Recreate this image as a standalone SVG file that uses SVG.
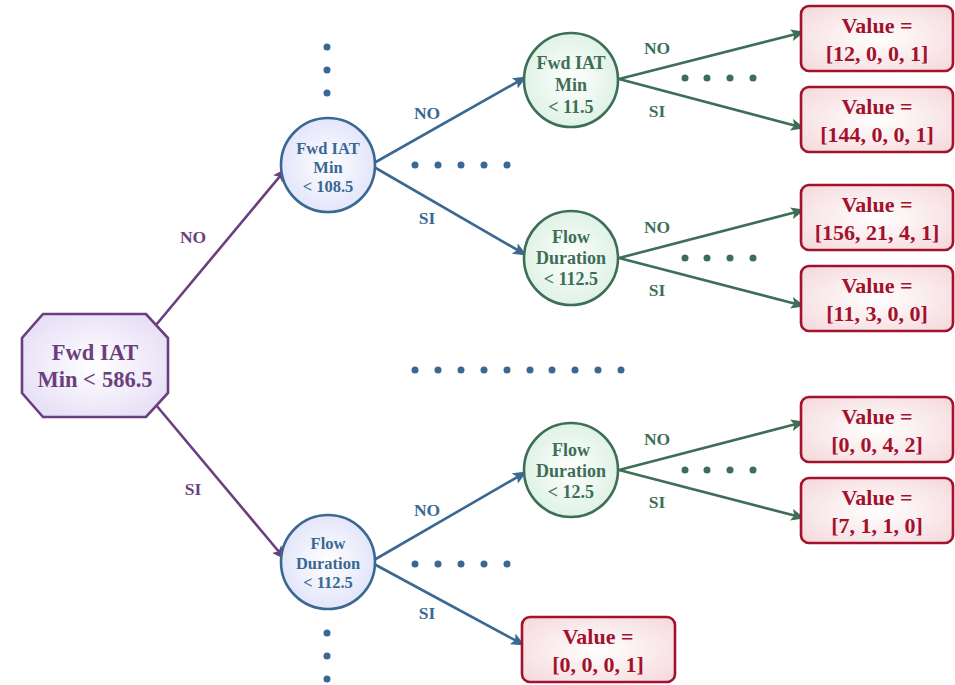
<svg xmlns="http://www.w3.org/2000/svg" width="955" height="685" viewBox="0 0 955 685">
  <defs>
    <radialGradient id="gPurple" cx="50%" cy="50%" r="60%">
      <stop offset="0" stop-color="#ffffff"/>
      <stop offset="1" stop-color="#e6def6"/>
    </radialGradient>
    <radialGradient id="gBlue" cx="50%" cy="50%" r="55%">
      <stop offset="0" stop-color="#ffffff"/>
      <stop offset="1" stop-color="#e0e3fa"/>
    </radialGradient>
    <radialGradient id="gGreen" cx="50%" cy="50%" r="55%">
      <stop offset="0" stop-color="#ffffff"/>
      <stop offset="1" stop-color="#dcf1e3"/>
    </radialGradient>
    <radialGradient id="gRed" cx="50%" cy="50%" r="65%">
      <stop offset="0" stop-color="#ffffff"/>
      <stop offset="1" stop-color="#f5dadd"/>
    </radialGradient>
    <marker id="aPurple" viewBox="0 0 14 12" refX="13" refY="6" markerWidth="14" markerHeight="12" markerUnits="userSpaceOnUse" orient="auto">
      <path d="M0,0 L14,6 L0,12 L3,6 Z" fill="#6b3f7e"/>
    </marker>
    <marker id="aBlue" viewBox="0 0 14 12" refX="13" refY="6" markerWidth="14" markerHeight="12" markerUnits="userSpaceOnUse" orient="auto">
      <path d="M0,0 L14,6 L0,12 L3,6 Z" fill="#3a6893"/>
    </marker>
    <marker id="aGreen" viewBox="0 0 14 12" refX="13" refY="6" markerWidth="14" markerHeight="12" markerUnits="userSpaceOnUse" orient="auto">
      <path d="M0,0 L14,6 L0,12 L3,6 Z" fill="#3d6e58"/>
    </marker>
  </defs>
  <style>
    text { font-family: "Liberation Serif", "Times New Roman", serif; font-weight: bold; text-anchor: middle; dominant-baseline: central; }
    .ep { stroke: #6b3f7e; stroke-width: 2.6; fill: none; marker-end: url(#aPurple); }
    .eb { stroke: #3a6893; stroke-width: 2.6; fill: none; marker-end: url(#aBlue); }
    .eg { stroke: #3d6e58; stroke-width: 2.6; fill: none; marker-end: url(#aGreen); }
    .lp { fill: #6b3f7e; font-size: 17.5px; }
    .lb { fill: #3a6893; font-size: 17.5px; }
    .lg { fill: #3d6e58; font-size: 17.5px; }
    .root { fill: url(#gPurple); stroke: #6b3f7e; stroke-width: 2.6; }
    .root-t { fill: #6b3f7e; font-size: 22.5px; }
    .bc { fill: url(#gBlue); stroke: #3a6893; stroke-width: 2.6; }
    .bc-t { fill: #3a6893; font-size: 16.5px; }
    .gc { fill: url(#gGreen); stroke: #3d6e58; stroke-width: 2.6; }
    .gc-t { fill: #3d6e58; font-size: 18px; }
    .leaf { fill: url(#gRed); stroke: #a3122c; stroke-width: 2.6; }
    .leaf-t { fill: #a3122c; font-size: 22px; }
    .db { fill: #3a6893; }
    .dg { fill: #3d6e58; }
  </style>

  <!-- connectors -->
  <g id="connectors">
    <line class="ep" x1="156" y1="325" x2="286" y2="169"/>
    <line class="ep" x1="156" y1="405" x2="285" y2="559"/>
    <line class="eb" x1="374" y1="163" x2="526" y2="77"/>
    <line class="eb" x1="374" y1="167" x2="526" y2="255"/>
    <line class="eb" x1="374" y1="560" x2="526" y2="472"/>
    <line class="eb" x1="374" y1="564" x2="524" y2="645"/>
    <line class="eg" x1="619" y1="79" x2="804" y2="32"/>
    <line class="eg" x1="619" y1="79" x2="804" y2="128"/>
    <line class="eg" x1="619" y1="258" x2="804" y2="210"/>
    <line class="eg" x1="619" y1="258" x2="804" y2="306"/>
    <line class="eg" x1="619" y1="470" x2="804" y2="422"/>
    <line class="eg" x1="619" y1="470" x2="804" y2="518"/>
    <text class="lp" x="193" y="237">NO</text>
    <text class="lp" x="193" y="489">SI</text>
    <text class="lb" x="427" y="113">NO</text>
    <text class="lb" x="427" y="218">SI</text>
    <text class="lb" x="427" y="510">NO</text>
    <text class="lb" x="427" y="613">SI</text>
    <text class="lg" x="657" y="48">NO</text>
    <text class="lg" x="657" y="111">SI</text>
    <text class="lg" x="657" y="227">NO</text>
    <text class="lg" x="657" y="290">SI</text>
    <text class="lg" x="657" y="439">NO</text>
    <text class="lg" x="657" y="502">SI</text>
  </g>

  <!-- ellipsis dots for omitted branches -->
  <g id="ellipses">
    <circle class="db" cx="327" cy="47" r="3.5"/>
    <circle class="db" cx="327" cy="70" r="3.5"/>
    <circle class="db" cx="327" cy="93" r="3.5"/>
    <circle class="db" cx="327" cy="633" r="3.5"/>
    <circle class="db" cx="327" cy="656" r="3.5"/>
    <circle class="db" cx="327" cy="679" r="3.5"/>
    <circle class="db" cx="415" cy="165" r="3.5"/>
    <circle class="db" cx="438" cy="165" r="3.5"/>
    <circle class="db" cx="461" cy="165" r="3.5"/>
    <circle class="db" cx="484" cy="165" r="3.5"/>
    <circle class="db" cx="507" cy="165" r="3.5"/>
    <circle class="db" cx="415" cy="564" r="3.5"/>
    <circle class="db" cx="438" cy="564" r="3.5"/>
    <circle class="db" cx="461" cy="564" r="3.5"/>
    <circle class="db" cx="484" cy="564" r="3.5"/>
    <circle class="db" cx="507" cy="564" r="3.5"/>
    <circle class="db" cx="415" cy="370" r="3.5"/>
    <circle class="db" cx="438" cy="370" r="3.5"/>
    <circle class="db" cx="461" cy="370" r="3.5"/>
    <circle class="db" cx="484" cy="370" r="3.5"/>
    <circle class="db" cx="507" cy="370" r="3.5"/>
    <circle class="db" cx="530" cy="370" r="3.5"/>
    <circle class="db" cx="552" cy="370" r="3.5"/>
    <circle class="db" cx="575" cy="370" r="3.5"/>
    <circle class="db" cx="598" cy="370" r="3.5"/>
    <circle class="db" cx="621" cy="370" r="3.5"/>
    <circle class="dg" cx="685" cy="78" r="3.5"/>
    <circle class="dg" cx="707" cy="78" r="3.5"/>
    <circle class="dg" cx="730" cy="78" r="3.5"/>
    <circle class="dg" cx="753" cy="78" r="3.5"/>
    <circle class="dg" cx="685" cy="258" r="3.5"/>
    <circle class="dg" cx="707" cy="258" r="3.5"/>
    <circle class="dg" cx="730" cy="258" r="3.5"/>
    <circle class="dg" cx="753" cy="258" r="3.5"/>
    <circle class="dg" cx="685" cy="470" r="3.5"/>
    <circle class="dg" cx="707" cy="470" r="3.5"/>
    <circle class="dg" cx="730" cy="470" r="3.5"/>
    <circle class="dg" cx="753" cy="470" r="3.5"/>
  </g>

  <!-- root split -->
  <g id="root">
    <polygon class="root" points="43,314 146,314 168,338 168,393 146,417 43,417 22,393 22,338"/>
    <text class="root-t" x="95" y="352">Fwd IAT</text>
    <text class="root-t" x="95" y="379">Min &lt;<tspan dx="6">586.5</tspan></text>
  </g>

  <!-- second level -->
  <g id="n-fwd-108">
    <circle class="bc" cx="328" cy="165" r="47"/>
    <text class="bc-t" x="328" y="148">Fwd IAT</text>
    <text class="bc-t" x="328" y="167">Min</text>
    <text class="bc-t" x="328" y="186">&lt; 108.5</text>
  </g>
  <g id="n-flow-112-a">
    <circle class="bc" cx="328" cy="562" r="47"/>
    <text class="bc-t" x="328" y="543">Flow</text>
    <text class="bc-t" x="328" y="563">Duration</text>
    <text class="bc-t" x="328" y="582">&lt; 112.5</text>
  </g>

  <!-- third level -->
  <g id="n-fwd-11">
    <circle class="gc" cx="571" cy="80" r="47"/>
    <text class="gc-t" x="571" y="63">Fwd IAT</text>
    <text class="gc-t" x="571" y="85">Min</text>
    <text class="gc-t" x="571" y="107">&lt; 11.5</text>
  </g>
  <g id="n-flow-112-b">
    <circle class="gc" cx="571" cy="258" r="47"/>
    <text class="gc-t" x="571" y="237">Flow</text>
    <text class="gc-t" x="571" y="258">Duration</text>
    <text class="gc-t" x="571" y="279">&lt; 112.5</text>
  </g>
  <g id="n-flow-12">
    <circle class="gc" cx="571" cy="470" r="47"/>
    <text class="gc-t" x="571" y="450">Flow</text>
    <text class="gc-t" x="571" y="471">Duration</text>
    <text class="gc-t" x="571" y="492">&lt; 12.5</text>
  </g>

  <!-- leaves -->
  <g id="leaf-1">
    <rect class="leaf" x="801" y="6" width="152" height="65" rx="8"/>
    <text class="leaf-t" x="877" y="25">Value =</text>
    <text class="leaf-t" x="877" y="53">[12, 0, 0, 1]</text>
  </g>
  <g id="leaf-2">
    <rect class="leaf" x="801" y="87" width="152" height="65" rx="8"/>
    <text class="leaf-t" x="877" y="106">Value =</text>
    <text class="leaf-t" x="877" y="134">[144, 0, 0, 1]</text>
  </g>
  <g id="leaf-3">
    <rect class="leaf" x="801" y="185" width="152" height="65" rx="8"/>
    <text class="leaf-t" x="877" y="204">Value =</text>
    <text class="leaf-t" x="877" y="232">[156, 21, 4, 1]</text>
  </g>
  <g id="leaf-4">
    <rect class="leaf" x="801" y="266" width="152" height="65" rx="8"/>
    <text class="leaf-t" x="877" y="285">Value =</text>
    <text class="leaf-t" x="877" y="313">[11, 3, 0, 0]</text>
  </g>
  <g id="leaf-5">
    <rect class="leaf" x="801" y="397" width="152" height="65" rx="8"/>
    <text class="leaf-t" x="877" y="416">Value =</text>
    <text class="leaf-t" x="877" y="444">[0, 0, 4, 2]</text>
  </g>
  <g id="leaf-6">
    <rect class="leaf" x="801" y="478" width="152" height="65" rx="8"/>
    <text class="leaf-t" x="877" y="497">Value =</text>
    <text class="leaf-t" x="877" y="525">[7, 1, 1, 0]</text>
  </g>
  <g id="leaf-7">
    <rect class="leaf" x="522" y="617" width="153" height="65" rx="8"/>
    <text class="leaf-t" x="598" y="636">Value =</text>
    <text class="leaf-t" x="598" y="664">[0, 0, 0, 1]</text>
  </g>
</svg>
